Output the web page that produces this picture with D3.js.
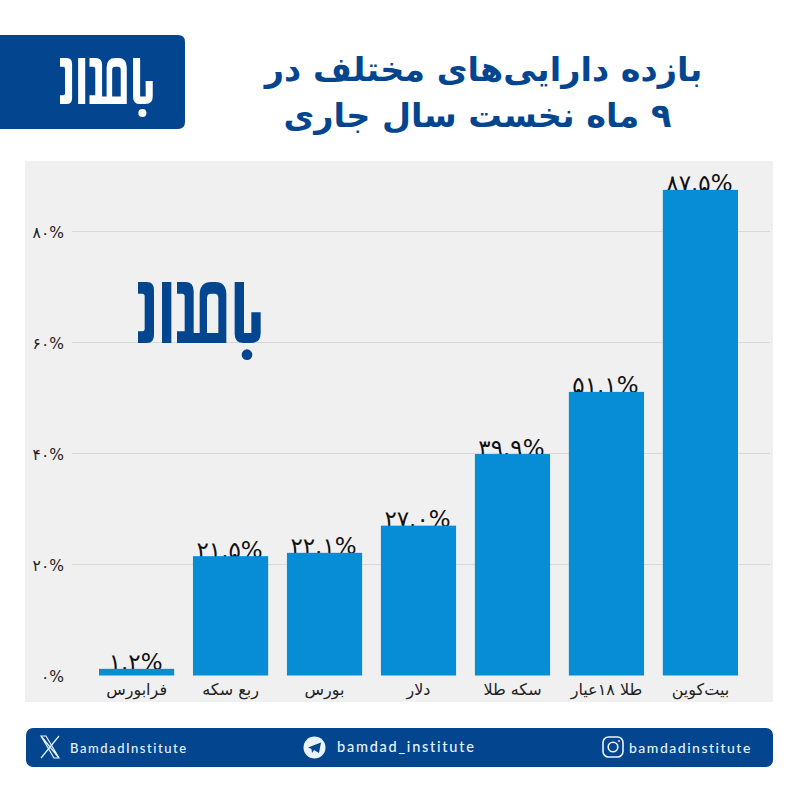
<!DOCTYPE html>
<html lang="fa"><head><meta charset="utf-8">
<script src="https://cdnjs.cloudflare.com/ajax/libs/d3/7.8.5/d3.min.js"></script>
<style>html,body{margin:0;padding:0;background:#fff}svg{display:block}</style></head>
<body><div id="c"></div>
<script>
const categories=["فرابورس","ربع سکه","بورس","دلار","سکه طلا","طلا ۱۸عیار","بیت‌کوین"];
const values=[1.2,21.5,22.1,27.0,39.9,51.1,87.5];
const valueLabels=["۱.۲%","۲۱.۵%","۲۲.۱%","۲۷.۰%","۳۹.۹%","۵۱.۱%","۸۷.۵%"];
const yTicks=[0,20,40,60,80];
const yTickLabels=["۰%","۲۰%","۴۰%","۶۰%","۸۰%"];
const titleLines=["بازده دارایی‌های مختلف در","۹ ماه نخست سال جاری"];
const handles=["BamdadInstitute","bamdad_institute","bamdadinstitute"];
const NAVY="#03468f",BLUE="#068dd6",FA="'DejaVu Sans','Noto Sans',sans-serif";
const LOGO="M55 37H82Q103 37 103 62V195Q103 220 82 220H55V185H68Q75 185 75 178V80Q75 72 68 72H55Z M127 37H155V220H127Z M172 37H197Q222 37 222 65V190H240V75Q240 37 275 37H287Q320 37 320 75V220H172V185H195V80Q195 72 187 72H172Z M262 190H296V85Q296 72 284 72H274Q262 72 262 85Z M345 37H373V190H395V128H423V190Q423 220 393 220H372Q345 220 345 193Z";
const svg=d3.select("#c").append("svg").attr("width",800).attr("height",800).attr("viewBox","0 0 800 800");
svg.append("rect").attr("width",800).attr("height",800).attr("fill","#fff");
function logo(g,color,x0,y0,k){
  const l=g.append("g").attr("transform",`translate(${x0},${y0}) scale(${k/3}) translate(-55,-37)`).attr("fill",color);
  l.append("path").attr("d",LOGO).attr("fill-rule","evenodd");
  l.append("circle").attr("cx",382).attr("cy",255).attr("r",16);
}
// header
svg.append("path").attr("d","M0 35H178Q185 35 185 42V122Q185 129 178 129H0Z").attr("fill",NAVY);
logo(svg,"#fff",60,58,0.756);
svg.append("g").selectAll("text").data(titleLines).join("text")
  .attr("x",(d,i)=>i?477.5:483.5).attr("y",(d,i)=>i?127:81)
  .attr("text-anchor","middle").attr("direction","rtl").attr("font-family",FA)
  .attr("font-weight",700).attr("font-size",33.5).attr("fill",NAVY).text(d=>d);
// panel
svg.append("rect").attr("x",25).attr("y",161).attr("width",748).attr("height",541).attr("fill","#f0f0f0");
const x=d3.scaleBand().domain(categories).range([89.6,747.4]).paddingInner(0.2).paddingOuter(0.1);
const y=d3.scaleLinear().domain([0,80]).range([675.5,231.5]);
const yAxis=d3.axisLeft(y).tickValues(yTicks).tickSize(0).tickPadding(8)
  .tickFormat((d,i)=>yTickLabels[i]);
const yg=svg.append("g").attr("transform","translate(72,1)").call(yAxis);
yg.select(".domain").remove();
yg.selectAll("text").attr("font-family",FA).attr("font-size",15.5).attr("fill","#222").attr("direction","ltr");
svg.append("g").selectAll("line").data(yTicks.slice(1)).join("line")
  .attr("x1",72).attr("x2",770).attr("y1",d=>y(d)).attr("y2",d=>y(d))
  .attr("stroke","#d8d8d8").attr("stroke-width",1);
// labels under bars
svg.append("g").selectAll("text").data(values).join("text")
  .attr("x",(d,i)=>x(categories[i])+x.bandwidth()/2-1).attr("y",d=>y(d)+1.5)
  .attr("text-anchor","middle").attr("direction","ltr").attr("font-family",FA)
  .attr("font-size",23).attr("fill","#111").text((d,i)=>valueLabels[i]);
svg.append("g").selectAll("rect").data(values).join("rect")
  .attr("x",(d,i)=>x(categories[i])).attr("width",x.bandwidth())
  .attr("y",d=>y(d)).attr("height",d=>y(0)-y(d)).attr("fill",BLUE);
const xAxis=d3.axisBottom(x).tickSize(0).tickPadding(7);
const xg=svg.append("g").attr("transform",`translate(0,${y(0)+1})`).call(xAxis);
xg.select(".domain").remove();
xg.selectAll("text").attr("font-family",FA).attr("font-size",16).attr("fill","#222").attr("direction","rtl");
logo(svg,NAVY,138,282,1);
// footer
svg.append("rect").attr("x",26).attr("y",728).attr("width",747).attr("height",39).attr("rx",7).attr("fill",NAVY);
svg.append("g").selectAll("text").data(handles).join("text")
  .attr("x",(d,i)=>[70,337,629][i]).attr("y",(d,i)=>[752.5,752,753][i])
  .attr("font-family","Lato,'Open Sans',sans-serif").attr("font-weight",500)
  .attr("font-size",(d,i)=>[13,14.5,14][i]).attr("letter-spacing",(d,i)=>[1.55,1.75,1.5][i]).attr("fill","#eaf3fb").text(d=>d);
// X icon
svg.append("path").attr("d","M41 736L59 758M59 736L41 758M41 736H46L59 758H54Z").attr("fill","none").attr("stroke","#eaf3fb").attr("stroke-width",1.2);
// telegram icon
svg.append("circle").attr("cx",314.5).attr("cy",747.5).attr("r",11).attr("fill","#eaf3fb");
svg.append("path").attr("d","M308 747.5L321 742.5L319 753L314 750L312 753L311.5 749Z").attr("fill",NAVY);
// instagram icon
svg.append("rect").attr("x",603).attr("y",737).attr("width",20).attr("height",20).attr("rx",5.5).attr("fill","none").attr("stroke","#eaf3fb").attr("stroke-width",1.6);
svg.append("circle").attr("cx",613).attr("cy",747).attr("r",4.8).attr("fill","none").attr("stroke","#eaf3fb").attr("stroke-width",1.6);
svg.append("circle").attr("cx",619).attr("cy",741).attr("r",1).attr("fill","#eaf3fb");
</script></body></html>
